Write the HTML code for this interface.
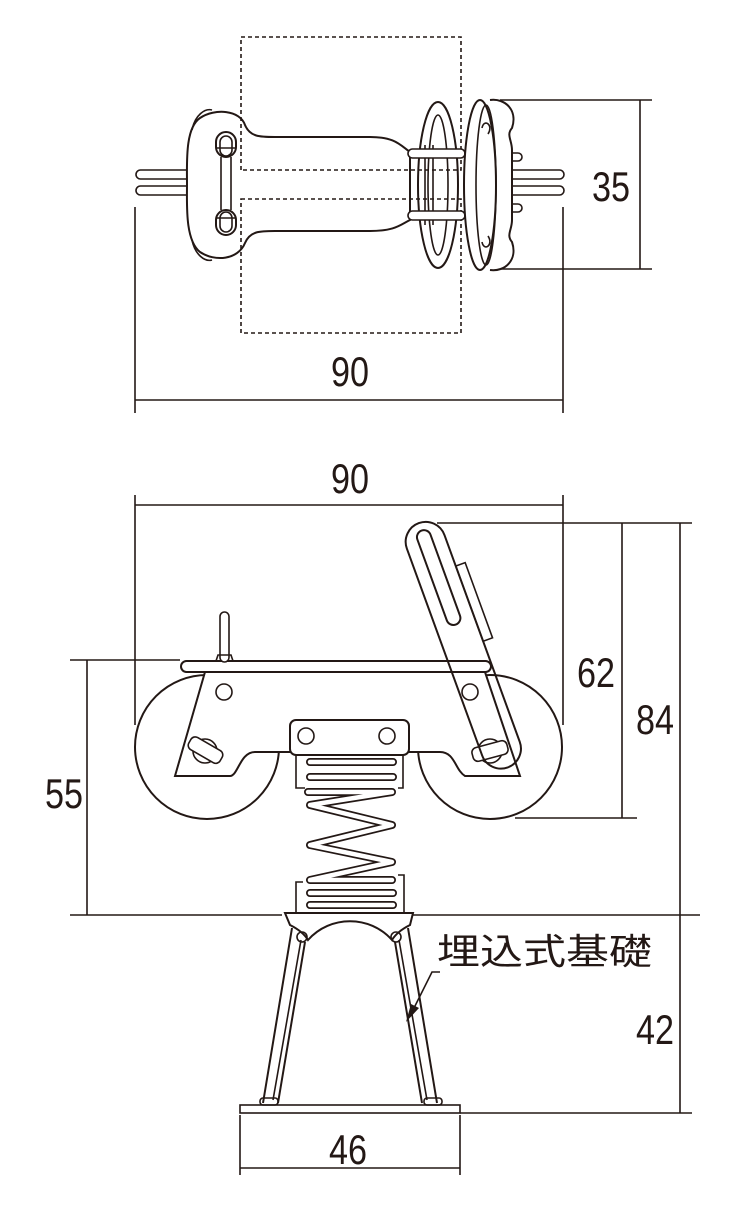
<!DOCTYPE html>
<html><head><meta charset="utf-8"><style>
html,body{margin:0;padding:0;background:#fff;}
svg{display:block}
text{font-family:"Liberation Sans","Noto Sans CJK JP",sans-serif;fill:#231815;}
</style></head><body>
<svg width="750" height="1213" viewBox="0 0 750 1213" xmlns="http://www.w3.org/2000/svg">
<g fill="none" stroke="#231815" stroke-width="1.6">
<!-- ===== TOP VIEW ===== -->
<line x1="500" y1="100" x2="652" y2="100"/>
<line x1="500" y1="269" x2="652" y2="269"/>
<line x1="640" y1="100" x2="640" y2="269"/>
<line x1="135" y1="207" x2="135" y2="413"/>
<line x1="563" y1="207" x2="563" y2="413"/>
<line x1="135" y1="400" x2="563" y2="400"/>
<rect x="136" y="170" width="56" height="9" rx="4.5" fill="#fff"/>
<rect x="136" y="186" width="56" height="9" rx="4.5" fill="#fff"/>
<rect x="500" y="170" width="64" height="9" rx="4.5" fill="#fff"/>
<rect x="500" y="186" width="64" height="9" rx="4.5" fill="#fff"/>
<rect x="500" y="153" width="22" height="8" rx="4" fill="#fff"/>
<rect x="500" y="204" width="22" height="8" rx="4" fill="#fff"/>
<path d="M200,118 C215,108 240,110 245,125 C250,137 260,137 275,137 L370,137 C395,137 400,145 410,152 L410,220 C400,225 395,231 370,231 L275,231 C260,231 250,231 245,243 C238,260 215,262 200,252 C185,240 187,205 187,184 C187,163 185,128 200,118 Z" fill="#fff" stroke-width="2"/>
<path d="M192,130 C195,115 205,108 212,110" />
<path d="M192,240 C195,255 205,262 212,260" />
<rect x="216" y="132" width="20" height="25" rx="10" stroke-width="2"/>
<rect x="220" y="136" width="12" height="20" rx="6"/>
<rect x="216" y="210" width="20" height="25" rx="10" stroke-width="2"/>
<rect x="220" y="212" width="12" height="20" rx="6"/>
<line x1="216" y1="148" x2="236" y2="148"/><line x1="216" y1="218" x2="236" y2="218"/>
<line x1="221" y1="157" x2="221" y2="210"/><line x1="231" y1="157" x2="231" y2="210"/>
<g stroke-dasharray="4,3">
<path d="M241,170 L241,37 L461,37 L461,170 L241,170"/>
<path d="M241,199 L461,199 L461,333 L241,333 Z"/>
</g>
<ellipse cx="438" cy="185" rx="20" ry="83" stroke-width="2"/>
<ellipse cx="438" cy="185" rx="10" ry="70"/>
<line x1="425" y1="145" x2="425" y2="225"/><line x1="433" y1="145" x2="433" y2="225"/>
<rect x="408" y="149" width="57" height="9" rx="4.5" fill="#fff"/>
<rect x="408" y="211" width="57" height="9" rx="4.5" fill="#fff"/>
<path d="M490,100 C505,98 518,110 512,128 C506,135 512,140 512,150 L512,220 C512,230 506,235 512,242 C518,260 505,272 490,270" fill="#fff" stroke-width="2"/>
<ellipse cx="480" cy="185" rx="16" ry="85" fill="#fff" stroke-width="2"/>
<ellipse cx="486" cy="185" rx="10" ry="80"/>
<path d="M482,128 C484,118 494,125 488,134"/><path d="M482,242 C484,252 494,245 488,236"/>
<!-- ===== SIDE VIEW ===== -->
<line x1="135" y1="495" x2="135" y2="725"/>
<line x1="563" y1="495" x2="563" y2="725"/>
<line x1="135" y1="505" x2="563" y2="505"/>
<line x1="437" y1="523" x2="692" y2="523"/>
<line x1="515" y1="818" x2="637" y2="818"/>
<line x1="622" y1="523" x2="622" y2="818"/>
<line x1="460" y1="1113" x2="692" y2="1113"/>
<line x1="680" y1="523" x2="680" y2="1113"/>
<line x1="70" y1="660" x2="180" y2="660"/>
<line x1="70" y1="915" x2="282" y2="915"/>
<line x1="412" y1="915" x2="700" y2="915"/>
<line x1="87" y1="660" x2="87" y2="915"/>
<line x1="240" y1="1115" x2="240" y2="1175"/>
<line x1="460" y1="1115" x2="460" y2="1175"/>
<line x1="240" y1="1168" x2="460" y2="1168"/>
<circle cx="207" cy="747" r="72" fill="#fff" stroke-width="2"/>
<circle cx="490" cy="747" r="72" fill="#fff" stroke-width="2"/>
<path d="M175,776 L205,672 L485,672 L520,776 L465,776 C455,770 455,752 440,752 L255,752 C240,752 238,776 230,776 Z" fill="#fff" stroke-width="2"/>
<rect x="181" y="661" width="310" height="11" rx="5.5" fill="#fff" stroke-width="2"/>
<rect x="220" y="612" width="9" height="50" rx="4.5" fill="#fff"/>
<path d="M216,661 L218,655 L231,655 L233,661" />
<circle cx="224" cy="692" r="8"/>
<circle cx="470" cy="692" r="8"/>
<circle cx="205" cy="751" r="12" fill="#fff"/>
<rect x="187" y="743" width="36" height="14" rx="5" transform="rotate(30 205 751)" fill="#fff"/>
<circle cx="490" cy="751" r="12" fill="#fff"/>
<rect x="472" y="744" width="36" height="14" rx="5" transform="rotate(-15 490 751)" fill="#fff"/>
<g transform="rotate(-20 425 540)">
<rect x="405" y="522" width="40" height="260" rx="20" fill="none" stroke-width="2"/>
<rect x="418" y="530" width="14" height="100" rx="7" stroke-width="2"/>
<rect x="445" y="575" width="10" height="80"/>
</g>
<rect x="290" y="720" width="119" height="35" rx="6" fill="#fff" stroke-width="2"/>
<circle cx="306" cy="736" r="8"/><circle cx="387" cy="736" r="8"/>
<path d="M296,755 L296,788 L305,788 M403,755 L403,788 L398,788"/>
<path d="M296,912 L296,882 L303,882 M404,912 L404,875 L398,875"/>
<!-- spring -->
<g stroke-linejoin="round" stroke-linecap="round">
<path d="M310,762 L393,762 M310,777 L393,777 M308,792 L392,792 L310,805 L392,825 L310,845 L392,862 L310,880 L392,880 M310,893 L393,893 M310,905 L393,905" stroke-width="8" stroke="#231815"/>
<path d="M310,762 L393,762 M310,777 L393,777 M308,792 L392,792 L310,805 L392,825 L310,845 L392,862 L310,880 L392,880 M310,893 L393,893 M310,905 L393,905" stroke-width="4.5" stroke="#fff"/>
</g>
<path d="M285,913 L413,913 L410,925 C400,930 395,935 392,940 C370,915 330,915 308,940 C305,935 300,930 290,925 Z" fill="#fff" stroke-width="2"/>
<path d="M292,928 L263,1103 M305,942 L278,1103 M408,928 L437,1103 M395,942 L422,1103" stroke-width="2"/>
<path d="M301,940 L273,1100 M399,940 L427,1100"/>
<circle cx="302" cy="937" r="5"/><circle cx="396" cy="937" r="5"/>
<rect x="240" y="1105" width="220" height="8" fill="#fff"/>
<rect x="260" y="1098" width="18" height="7" rx="3"/><rect x="424" y="1098" width="18" height="7" rx="3"/>
<path d="M440,972 L432,972 L412,1012"/>
</g>
<path d="M406,1022 L411,1004 L419,1008 Z" fill="#231815"/>
<g font-size="42" text-anchor="middle">
<text x="611" y="201" textLength="38" lengthAdjust="spacingAndGlyphs">35</text>
<text x="350" y="386" textLength="38" lengthAdjust="spacingAndGlyphs">90</text>
<text x="350" y="493" textLength="38" lengthAdjust="spacingAndGlyphs">90</text>
<text x="596" y="687" textLength="38" lengthAdjust="spacingAndGlyphs">62</text>
<text x="655" y="734" textLength="38" lengthAdjust="spacingAndGlyphs">84</text>
<text x="64" y="808" textLength="38" lengthAdjust="spacingAndGlyphs">55</text>
<text x="655" y="1044" textLength="38" lengthAdjust="spacingAndGlyphs">42</text>
<text x="348" y="1164" textLength="38" lengthAdjust="spacingAndGlyphs">46</text>
</g>
<text x="437" y="964" font-size="36" textLength="215" lengthAdjust="spacingAndGlyphs">埋込式基礎</text>
</svg>
</body></html>
